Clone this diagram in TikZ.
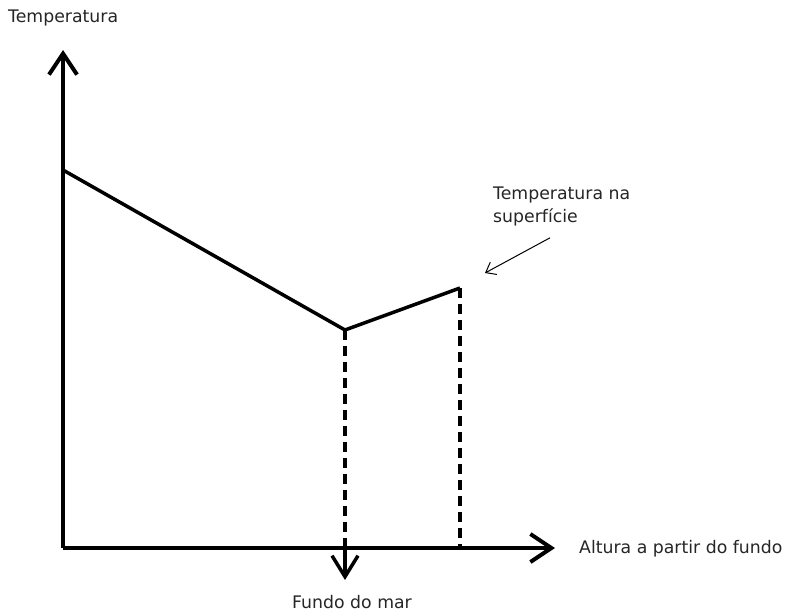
\documentclass[tikz,border=0pt]{standalone}
\usepackage{fontspec}
\setmainfont{DejaVu Sans}
\usetikzlibrary{arrows.meta}
\begin{document}
\begin{tikzpicture}[x=1pt,y=-1pt,
  axis/.style={line width=4pt,-{Straight Barb[length=21pt,width=28pt]}},
  curve/.style={line width=3.5pt,line join=miter},
  guide/.style={line width=3.5pt,dash pattern=on 10pt off 6pt},
  pointer/.style={line width=1pt,-{Straight Barb[length=9pt,width=14pt]}},
  lbl/.style={font=\fontsize{17.3}{23}\selectfont,text=black!85,inner sep=0pt,anchor=base west}]
  \useasboundingbox[fill=white] (0,0) rectangle (795,613);
  % axes
  \coordinate (o) at (63,548);
  \coordinate (ytip) at (63,50);
  \coordinate (xtip) at (555,548);
  \draw[axis] (o) -- (ytip);
  \draw[axis] (o) -- (xtip);
  % temperature profile
  \coordinate (p0) at (63,170);
  \coordinate (p1) at (345,330);
  \coordinate (p2) at (460,288);
  \draw[curve] (p0) -- (p1) -- (p2);
  % guides down to the axis
  \coordinate (b1) at (345,548);
  \coordinate (b2) at (460,548);
  \coordinate (btip) at (345,580);
  \draw[guide] (p1) -- (b1);
  \draw[guide] (p2) -- (b2);
  \draw[line width=3.5pt,-{Straight Barb[length=21pt,width=26pt]}] (b1) -- (btip);
  % labels
  \node[lbl] (ylab) at (8,23) {Temperatura};
  \node[lbl] (xlab) at (579,553) {Altura a partir do fundo};
  \node[lbl] (fundo) at (292,608) {Fundo do mar};
  \node[lbl] (surf1) at (493,199) {Temperatura na};
  \node[lbl] (surf2) at (493,222) {superfície};
  \coordinate (ptr) at (485,273);
  \draw[pointer] (surf2.south west) ++(57,12) coordinate (ps) (ps) -- (ptr);
\end{tikzpicture}
\end{document}
